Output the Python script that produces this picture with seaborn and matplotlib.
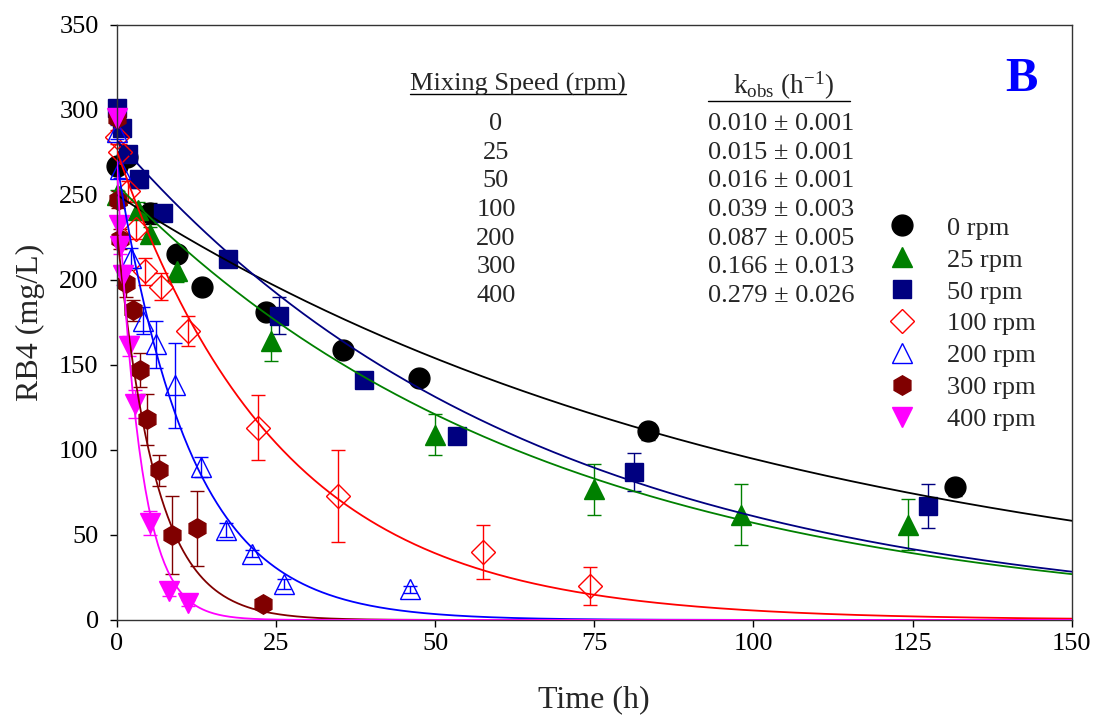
import numpy as np
import pandas as pd
import matplotlib
matplotlib.use("Agg")
import matplotlib.pyplot as plt
import seaborn as sns
from matplotlib.lines import Line2D

# ---------------- data ----------------
series_names = ["0 rpm", "25 rpm", "50 rpm", "100 rpm", "200 rpm", "300 rpm", "400 rpm"]
colors = ["#000000", "#008000", "#000080", "#FF0000", "#0000FF", "#800000", "#FF00FF"]
markers = ["o", "^", "s", "D", "^", "h", "v"]
filled = [True, True, True, False, False, True, True]

t_0 = [0, 1.6, 5.2, 9.4, 13.4, 23.4, 35.5, 47.5, 83.4, 131.6]
c_0 = [267, 272, 239, 215, 196, 181, 159, 142, 111, 78]
e_0 = [3, 4, 6, 3, 2, 4, 4, 2, 5, 5]

t_25 = [0, 3.3, 5.2, 9.4, 24.3, 50.0, 75.0, 98.1, 124.3]
c_25 = [250, 241, 227, 205, 164, 109, 77, 62, 56]
e_25 = [3, 5, 4, 6, 12, 12, 15, 18, 15]

t_50 = [0, 0.8, 1.8, 3.5, 7.3, 17.5, 25.5, 38.9, 53.5, 81.2, 127.5]
c_50 = [301, 289, 274, 259, 239, 212, 179, 141, 108, 87, 67]
e_50 = [3, 3, 4, 5, 3, 4, 11, 2, 4, 11, 13]

t_100 = [0, 0.5, 1.8, 3.0, 4.5, 7.0, 11.2, 22.2, 34.8, 57.6, 74.3]
c_100 = [284, 275, 252, 230, 205, 196, 170, 113, 73, 40, 20]
e_100 = [4, 5, 6, 6, 8, 8, 9, 19, 27, 16, 11]

t_200 = [0, 0.5, 2.3, 4.1, 6.2, 9.2, 13.2, 17.2, 21.2, 26.2, 46.1]
c_200 = [287, 265, 213, 176, 162, 138, 90, 53, 39, 21, 18]
e_200 = [4, 5, 6, 8, 14, 25, 6, 4, 2, 3, 2]

t_300 = [0, 0.25, 0.5, 1.5, 2.6, 3.7, 4.7, 6.7, 8.7, 12.6, 23.0]
c_300 = [295, 247, 224, 198, 182, 147, 118, 88, 50, 54, 9.4]
e_300 = [3, 5, 6, 8, 6, 10, 15, 9, 23, 22, 2]

t_400 = [0, 0.3, 0.5, 1.0, 2.0, 2.8, 5.2, 8.2, 11.2]
c_400 = [295, 232, 220, 203, 161, 127, 57, 17, 10]
e_400 = [3, 5, 5, 6, 6, 8, 7, 3, 2]

# first-order fit parameters (C = C0 exp(-k t)) estimated from the drawn curves
fit_c0 = [250, 256, 282, 276, 270, 230, 270]
fit_k = [0.0097, 0.015, 0.0153, 0.039, 0.087, 0.166, 0.279]

# table text
table_speeds = ["0", "25", "50", "100", "200", "300", "400"]
table_kobs = ["0.010 ± 0.001", "0.015 ± 0.001", "0.016 ± 0.001", "0.039 ± 0.003",
              "0.087 ± 0.005", "0.166 ± 0.013", "0.279 ± 0.026"]

x_ticks = [0, 25, 50, 75, 100, 125, 150]
y_ticks = [0, 50, 100, 150, 200, 250, 300, 350]

data_t = [t_0, t_25, t_50, t_100, t_200, t_300, t_400]
data_c = [c_0, c_25, c_50, c_100, c_200, c_300, c_400]
data_e = [e_0, e_25, e_50, e_100, e_200, e_300, e_400]

# ---------------- style ----------------
sns.set_theme(style="ticks")
plt.rcParams['font.family'] = ['Liberation Serif', 'DejaVu Serif']
plt.rcParams['mathtext.fontset'] = 'custom'
plt.rcParams['mathtext.rm'] = 'Liberation Serif'
plt.rcParams['mathtext.it'] = 'Liberation Serif:italic'
plt.rcParams['mathtext.bf'] = 'Liberation Serif:bold'

W, H = 1094, 716
fig = plt.figure(figsize=(W / 100, H / 100), dpi=100)
ax_l, ax_r, ax_t, ax_b = 116.7, 1071.7, 24.7, 620.0
ax = fig.add_axes([ax_l / W, 1 - ax_b / H, (ax_r - ax_l) / W, (ax_b - ax_t) / H])

# fitted curves via seaborn
tg = np.linspace(0, 150, 600)
fit_frames = []
for name, c0, k in zip(series_names, fit_c0, fit_k):
    fit_frames.append(pd.DataFrame({"t": tg, "C": c0 * np.exp(-k * tg), "series": name}))
fit_df = pd.concat(fit_frames, ignore_index=True)
sns.lineplot(data=fit_df, x="t", y="C", hue="series", hue_order=series_names,
             palette=dict(zip(series_names, colors)), estimator=None, sort=False,
             linewidth=1.3, legend=False, ax=ax, zorder=3)

msizes = {"o": 15, "^": 15, "s": 13, "D": 12.5, "h": 14, "v": 15}
handles = []
for i, name in enumerate(series_names):
    col = colors[i]
    mk = markers[i]
    mfc = col if filled[i] else "none"
    eb = ax.errorbar(data_t[i], data_c[i], yerr=data_e[i], fmt=mk, color=col,
                     mfc=mfc, mec=col, mew=1.0, ms=msizes[mk], ecolor=col,
                     elinewidth=1.0, capsize=5, capthick=1.0, zorder=2 + i * 0.01)
    for art in eb.get_children():
        art.set_clip_on(False)
    handles.append(Line2D([], [], linestyle="none", marker=mk, color=col, mfc=mfc,
                          mec=col, mew=1.0, ms=msizes[mk]))

ax.set_xlim(0, 150)
ax.set_ylim(0, 350)
ax.set_xticks(x_ticks)
ax.set_yticks(y_ticks)
ax.tick_params(direction="out", length=5, width=1, labelsize=19, colors="black")
ax.tick_params(axis="y", pad=8)
ax.tick_params(axis="x", pad=4)
for s in ax.spines.values():
    s.set_linewidth(1.0)
    s.set_color("#333333")
ax.set_xlabel("Time (h)", fontsize=23, labelpad=22)
ax.set_ylabel("RB4 (mg/L)", fontsize=23, labelpad=10)

leg = ax.legend(handles, series_names, loc="upper left",
                bbox_to_anchor=((869 - ax_l) / (ax_r - ax_l), (ax_b - 203) / (ax_b - ax_t)),
                frameon=False, fontsize=19, handletextpad=0.95, labelspacing=0.32,
                borderpad=0, handlelength=1.5)

# table
def fx(px):
    return (px - ax_l) / (ax_r - ax_l)

def fy(py):
    return (ax_b - py) / (ax_b - ax_t)

h1 = ax.text(fx(518), fy(90.7), "Mixing Speed (rpm)", transform=ax.transAxes,
             ha="center", va="baseline", fontsize=19)
h2 = ax.text(fx(784), fy(93.3), r"k$_{\mathrm{obs}}$ (h$^{\mathrm{-1}}$)", transform=ax.transAxes,
             ha="center", va="baseline", fontsize=19.5)
for j in range(len(table_speeds)):
    yb = 130.2 + 28.6 * j
    ax.text(fx(496), fy(yb), table_speeds[j], transform=ax.transAxes, ha="center",
            va="baseline", fontsize=19)
    ax.text(fx(781), fy(yb), table_kobs[j], transform=ax.transAxes, ha="center",
            va="baseline", fontsize=19)

ax.text(fx(1021), fy(79), "B", transform=ax.transAxes, ha="center", va="center",
        fontsize=35, fontweight="bold", color="#0000FF")

# underlines
fig.canvas.draw()
inv = ax.transAxes.inverted()
bb1 = h1.get_window_extent()
p0 = inv.transform((bb1.x0, 0)); p1 = inv.transform((bb1.x1, 0))
ax.plot([p0[0], p1[0]], [fy(93.8)] * 2, transform=ax.transAxes, color="black", lw=1.0, clip_on=False)
ax.plot([fx(708), fx(850)], [fy(100.7)] * 2, transform=ax.transAxes, color="black", lw=1.0, clip_on=False)

fig.savefig("out.png", dpi=100)
